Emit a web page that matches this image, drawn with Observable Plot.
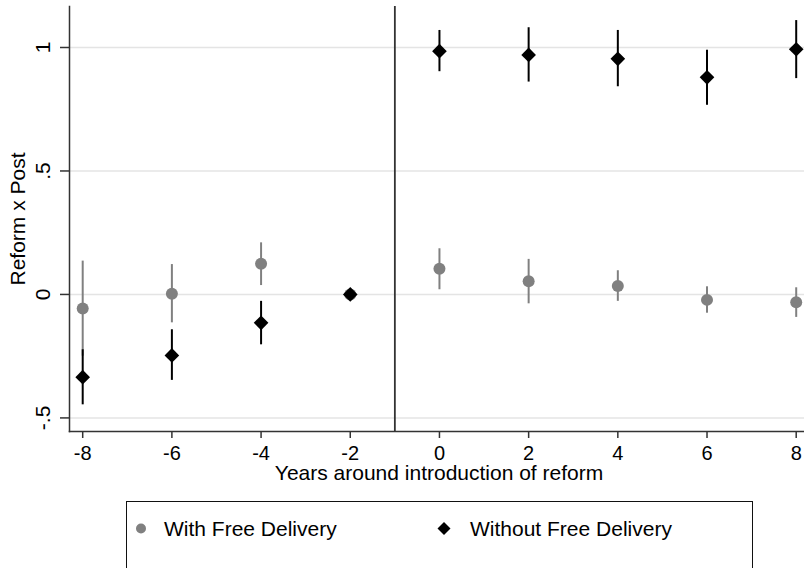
<!DOCTYPE html>
<html>
<head>
<meta charset="utf-8">
<script src="https://cdn.jsdelivr.net/npm/d3@7"></script>
<script src="https://cdn.jsdelivr.net/npm/@observablehq/plot@0.6"></script>
<style>
  body { margin: 0; background: #fff; font-family: "Liberation Sans", Arial, sans-serif; }
  #wrap { position: relative; width: 804px; height: 568px; overflow: hidden; }
  #legend { position: absolute; left: 126px; top: 501px; width: 627px; height: 100px;
            border: 1px solid #111; box-sizing: border-box; }
  #legend svg { position: absolute; left: -1px; top: -1px; }
</style>
</head>
<body>
<div id="wrap">
  <div id="chart"></div>
  <div id="legend"></div>
</div>
<script>
// Data
const years = [-8, -6, -4, -2, 0, 2, 4, 6, 8];
const withEst = [-0.057, 0.003, 0.124, 0, 0.104, 0.053, 0.034, -0.022, -0.032];
const withLo  = [-0.250, -0.115, 0.036, null, 0.019, -0.038, -0.028, -0.076, -0.093];
const withHi  = [0.135, 0.121, 0.209, null, 0.185, 0.142, 0.096, 0.031, 0.027];
const withoutEst = [-0.335, -0.247, -0.115, 0, 0.985, 0.970, 0.954, 0.879, 0.993];
const withoutLo  = [-0.447, -0.348, -0.204, null, 0.902, 0.860, 0.841, 0.766, 0.874];
const withoutHi  = [-0.224, -0.143, -0.028, null, 1.069, 1.080, 1.069, 0.989, 1.109];
const yTicks = [-0.5, 0, 0.5, 1];
const yTickLabels = ["-.5", "0", ".5", "1"];
const reformYear = [-1];
const seriesNames = ["With Free Delivery", "Without Free Delivery"];
const xTitle = "Years around introduction of reform";
const yTitle = "Reform x Post";

const withRows = years.map((x, i) => ({x, y: withEst[i], lo: withLo[i], hi: withHi[i]}));
const withoutRows = years.map((x, i) => ({x, y: withoutEst[i], lo: withoutLo[i], hi: withoutHi[i]}));
const gray = "#808080";
const axisCol = "#333";
const font = "'Liberation Sans', Arial, sans-serif";

const chart = Plot.plot({
  width: 804,
  height: 490,
  marginLeft: 69,
  marginRight: 0,
  marginTop: 6,
  marginBottom: 59,
  x: {domain: [-8.296, 8.186]},
  y: {domain: [-0.555, 1.166]},
  style: {fontFamily: font, fontSize: "20px", background: "#fff", color: "#000", overflow: "visible"},
  marks: [
    Plot.ruleY(yTicks, {stroke: "#e4e4e4", strokeWidth: 1.5}),
    Plot.ruleX(reformYear, {stroke: "#333", strokeWidth: 1.8}),
    Plot.ruleX(withRows.filter(d => d.lo != null), {x: "x", y1: "lo", y2: "hi", stroke: gray, strokeWidth: 2}),
    Plot.dot(withRows, {x: "x", y: "y", r: 6, fill: gray, symbol: "circle"}),
    Plot.ruleX(withoutRows.filter(d => d.lo != null), {x: "x", y1: "lo", y2: "hi", stroke: "#000", strokeWidth: 2}),
    Plot.dot(withoutRows, {x: "x", y: "y", r: 6.6, fill: "#000", symbol: "diamond2"}),
    Plot.frame({anchor: "left", stroke: axisCol, strokeWidth: 1.5}),
    Plot.frame({anchor: "bottom", stroke: axisCol, strokeWidth: 1.5}),
    Plot.axisY({ticks: yTicks, tickSize: 9, tickFormat: () => "", label: null, stroke: axisCol, strokeWidth: 1.5}),
    Plot.text(yTicks, {y: d => d, text: (d, i) => yTickLabels[i], frameAnchor: "left", textAnchor: "middle", lineAnchor: "middle", dx: -26, rotate: -90, fontSize: 21}),
    Plot.axisX({ticks: years, tickSize: 7, tickPadding: 7, tickFormat: d => String(d), label: null, stroke: axisCol, strokeWidth: 1.5, fontSize: 20}),
    Plot.text([xTitle], {frameAnchor: "bottom", textAnchor: "middle", dx: 2, dy: 48, fontSize: 21}),
    Plot.text([yTitle], {frameAnchor: "left", textAnchor: "middle", lineAnchor: "middle", dx: -51, rotate: -90, fontSize: 21})
  ]
});
document.getElementById("chart").appendChild(chart);

// Legend (HTML box with a small SVG for the keys)
const legend = document.getElementById("legend");
legend.innerHTML = `
  <svg width="627" height="100" style="font-family:${font};font-size:21px">
    <circle cx="15" cy="27.5" r="5" fill="${gray}"/>
    <text x="38" y="35">${seriesNames[0]}</text>
    <path d="M318 21 L324.5 27.5 L318 34 L311.5 27.5 Z" fill="#000"/>
    <text x="344" y="35">${seriesNames[1]}</text>
  </svg>`;
</script>
</body>
</html>
